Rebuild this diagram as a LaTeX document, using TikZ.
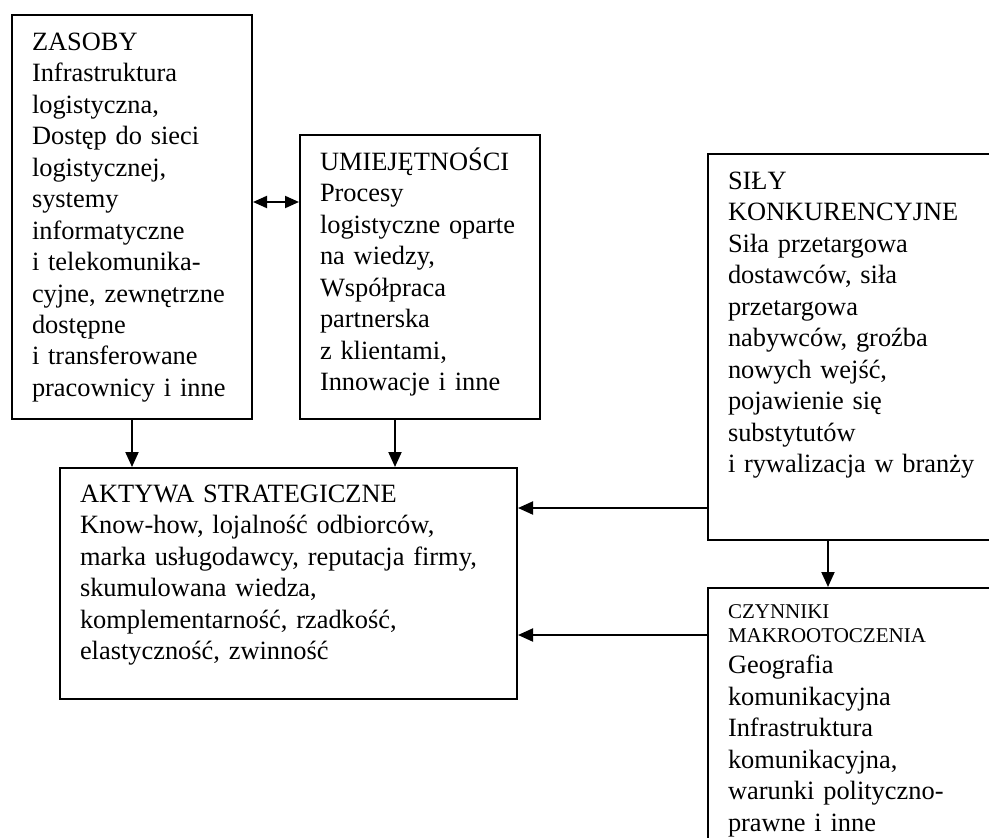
\documentclass[tikz,border=0pt]{standalone}
\usepackage{fontspec}
\setmainfont{Liberation Serif}
\usepackage{tikz}
\usetikzlibrary{arrows.meta}

\begin{document}
\begin{tikzpicture}[x = 1pt, y = -1pt, line width = 2pt,
                    box/.style = {draw, rectangle, anchor = north west, inner sep = 0pt},
                    txt/.style = {anchor = base west, align = left, inner sep = 0pt, text width = 270pt,
                                  font = \fontsize{26.4}{31.5}\selectfont},
                    arr/.style = {-{Triangle[length = 15pt, width = 13pt]}},
                    dbl/.style = {{Triangle[length = 14pt, width = 12pt]}-{Triangle[length = 14pt, width = 12pt]}}]
      \clip (0, 0) rectangle (989, 838);
      % boxes
      \node [box, minimum width = 240, minimum height = 404] (zasoby) at (11, 14){};
      \node [box, minimum width = 240, minimum height = 284] (umiej) at (299, 134){};
      \node [box, minimum width = 300, minimum height = 386] (sily) at (707, 153){};
      \node [box, minimum width = 457, minimum height = 231] (aktywa) at (59, 467){};
      \node [box, minimum width = 300, minimum height = 280] (czynniki) at (707, 587){};
      % texts
      \node [txt] (zasobyT) at (31, 50){ZASOBY\\ Infrastruktura\\ logistyczna,\\ Dostęp do sieci\\
        logistycznej,\\ systemy\\ informatyczne\\ i telekomunika-\\ cyjne, zewnętrzne\\ dostępne\\
        i transferowane\\ pracownicy i inne};
      \node [txt] (umiejT) at (319, 170){UMIEJĘTNOŚCI\\ Procesy\\ logistyczne oparte\\ na wiedzy,\\
        Współpraca\\ partnerska\\ z klientami,\\ Innowacje i inne};
      \node [txt] (silyT) at (727, 189){SIŁY\\ KONKURENCYJNE\\ Siła przetargowa\\ dostawców, siła\\
        przetargowa\\ nabywców, groźba\\ nowych wejść,\\ pojawienie się\\ substytutów\\
        i rywalizacja w branży};
      \node [txt, text width = 440pt] (aktywaT) at (79, 502){AKTYWA STRATEGICZNE\\
        Know-how, lojalność odbiorców,\\ marka usługodawcy, reputacja firmy,\\ skumulowana wiedza,\\
        komplementarność, rzadkość,\\ elastyczność, zwinność};
      \node [txt] (czynnikiT) at (727, 618){{\fontsize{21}{24}\selectfont CZYNNIKI\\ MAKROOTOCZENIA\par}
        Geografia\\ komunikacyjna\\ Infrastruktura\\ komunikacyjna,\\ warunki polityczno-\\ prawne i inne};
      % connectors
      \coordinate (d1) at ([yshift = -188pt]zasoby.north east);
      \coordinate (s1) at ([yshift = 33pt]sily.south west);
      \coordinate (s2) at ([xshift = 121pt]sily.south west);
      \coordinate (c1) at ([yshift = -48pt]czynniki.north west);
      \coordinate (u1) at ([xshift = 96pt]umiej.south west);
      \draw [dbl] (d1) -- (d1 -| umiej.west);
      \draw [arr] (zasoby.south) -- (zasoby.south |- aktywa.north);
      \draw [arr] (u1) -- (u1 |- aktywa.north);
      \draw [arr] (s1) -- (s1 -| aktywa.east);
      \draw [arr] (c1) -- (c1 -| aktywa.east);
      \draw [arr] (s2) -- (s2 |- czynniki.north);
    \end{tikzpicture}
\end{document}
